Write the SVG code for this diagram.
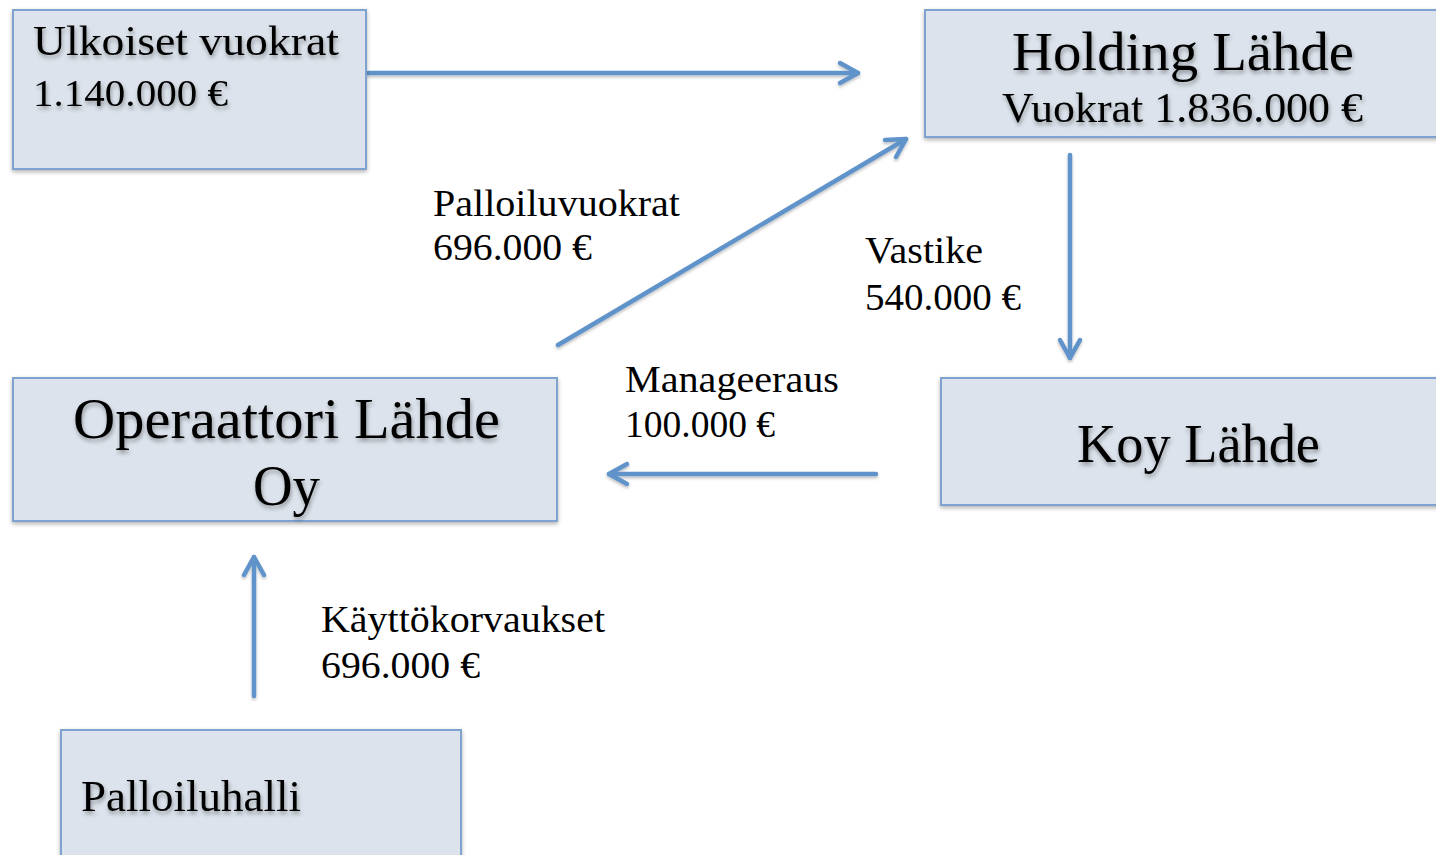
<svg xmlns="http://www.w3.org/2000/svg" width="1436" height="855" viewBox="0 0 1436 855">
<style>
.box{fill:#dce3ec;stroke:#7fa3d1;stroke-width:2}
.t{font-family:"Liberation Serif","DejaVu Serif",serif;fill:#000}
.ts{filter:url(#tsh)}
.c{fill:none;stroke:#5f93c9;stroke-width:4.5;stroke-linecap:round}
.h{fill:none;stroke:#5f93c9;stroke-width:4.5;stroke-linecap:round;stroke-linejoin:round}
</style>
<defs>
<filter id="bsh" x="-5%" y="-5%" width="110%" height="115%">
<feDropShadow dx="0" dy="2" stdDeviation="2" flood-color="#000" flood-opacity="0.3"/>
</filter>
<filter id="tsh" x="-5%" y="-20%" width="110%" height="150%">
<feDropShadow dx="1" dy="3" stdDeviation="2" flood-color="#000" flood-opacity="0.35"/>
</filter>
<filter id="csh" x="-10%" y="-10%" width="120%" height="120%">
<feDropShadow dx="0" dy="2" stdDeviation="1.5" flood-color="#000" flood-opacity="0.25"/>
</filter>
</defs>
<rect width="1436" height="855" fill="#fff"/>
<g id="connectors" filter="url(#csh)">
<line class="c" x1="368" y1="73" x2="858" y2="73"/>
<polyline class="h" points="840,63 858,73 840,83"/>
<line class="c" x1="558" y1="345" x2="906" y2="139"/>
<polyline class="h" points="885,140 906,139 896,157"/>
<line class="c" x1="1070" y1="155" x2="1070" y2="358"/>
<polyline class="h" points="1060,340 1070,358 1080,340"/>
<line class="c" x1="876" y1="474" x2="609" y2="474"/>
<polyline class="h" points="627,464 609,474 627,484"/>
<line class="c" x1="254" y1="696" x2="254" y2="557"/>
<polyline class="h" points="244,575 254,557 264,575"/>
</g>
<g id="ulkoiset">
<rect class="box" x="13" y="10" width="353" height="159" filter="url(#bsh)"/>
<text class="t ts" x="33" y="55" font-size="43" textLength="306" lengthAdjust="spacingAndGlyphs">Ulkoiset vuokrat</text>
<text class="t ts" x="33" y="106" font-size="38" textLength="195" lengthAdjust="spacingAndGlyphs">1.140.000 €</text>
</g>
<g id="holding">
<rect class="box" x="925" y="10" width="520" height="127" filter="url(#bsh)"/>
<text class="t ts" x="1012" y="70" font-size="55" textLength="342" lengthAdjust="spacingAndGlyphs">Holding Lähde</text>
<text class="t ts" x="1002" y="122" font-size="42" textLength="361" lengthAdjust="spacingAndGlyphs">Vuokrat 1.836.000 €</text>
</g>
<g id="operaattori">
<rect class="box" x="13" y="378" width="544" height="143" filter="url(#bsh)"/>
<text class="t ts" x="73" y="438" font-size="56" textLength="427" lengthAdjust="spacingAndGlyphs">Operaattori Lähde</text>
<text class="t ts" x="253" y="505" font-size="56" textLength="67" lengthAdjust="spacingAndGlyphs">Oy</text>
</g>
<g id="koy">
<rect class="box" x="941" y="378" width="504" height="127" filter="url(#bsh)"/>
<text class="t ts" x="1077" y="462" font-size="54" textLength="243" lengthAdjust="spacingAndGlyphs">Koy Lähde</text>
</g>
<g id="palloiluhalli">
<rect class="box" x="61" y="730" width="400" height="140" filter="url(#bsh)"/>
<text class="t ts" x="81" y="811" font-size="44" textLength="220" lengthAdjust="spacingAndGlyphs">Palloiluhalli</text>
</g>
<g id="labels">
<text class="t" x="433" y="216" font-size="37" textLength="247" lengthAdjust="spacingAndGlyphs">Palloiluvuokrat</text>
<text class="t" x="433" y="260" font-size="37" textLength="159" lengthAdjust="spacingAndGlyphs">696.000 €</text>
<text class="t" x="865" y="263" font-size="37" textLength="118" lengthAdjust="spacingAndGlyphs">Vastike</text>
<text class="t" x="865" y="310" font-size="37" textLength="156" lengthAdjust="spacingAndGlyphs">540.000 €</text>
<text class="t" x="625" y="392" font-size="37" textLength="214" lengthAdjust="spacingAndGlyphs">Manageeraus</text>
<text class="t" x="625" y="437" font-size="37" textLength="150" lengthAdjust="spacingAndGlyphs">100.000 €</text>
<text class="t" x="321" y="632" font-size="37" textLength="284" lengthAdjust="spacingAndGlyphs">Käyttökorvaukset</text>
<text class="t" x="321" y="678" font-size="37" textLength="159" lengthAdjust="spacingAndGlyphs">696.000 €</text>
</g>
</svg>
